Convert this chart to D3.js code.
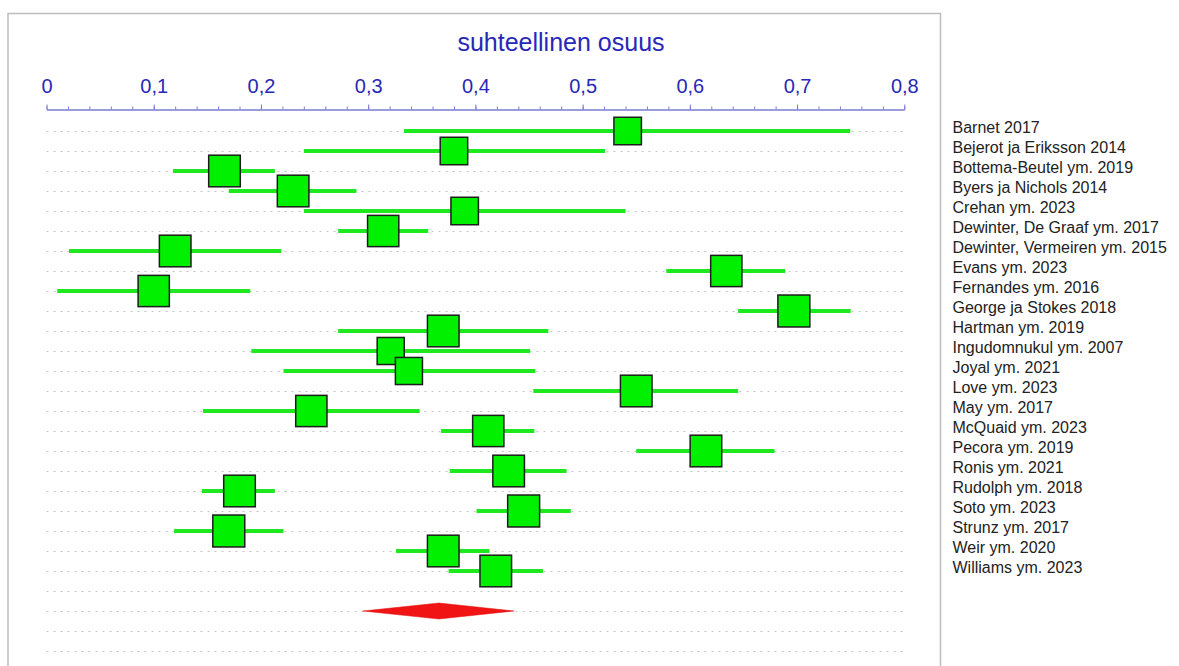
<!DOCTYPE html>
<html>
<head>
<meta charset="utf-8">
<script src="https://cdn.jsdelivr.net/npm/d3@7"></script>
<style>
  html, body { margin: 0; padding: 0; background: #ffffff; }
  svg { display: block; }
</style>
</head>
<body>
<svg id="chart" width="1179" height="666"></svg>
<script>
// ---- data ----
const studies = [
  "Barnet 2017", "Bejerot ja Eriksson 2014", "Bottema-Beutel ym. 2019",
  "Byers ja Nichols 2014", "Crehan ym. 2023", "Dewinter, De Graaf ym. 2017",
  "Dewinter, Vermeiren ym. 2015", "Evans ym. 2023", "Fernandes ym. 2016",
  "George ja Stokes 2018", "Hartman ym. 2019", "Ingudomnukul ym. 2007",
  "Joyal ym. 2021", "Love ym. 2023", "May ym. 2017", "McQuaid ym. 2023",
  "Pecora ym. 2019", "Ronis ym. 2021", "Rudolph ym. 2018", "Soto ym. 2023",
  "Strunz ym. 2017", "Weir ym. 2020", "Williams ym. 2023"
];
const estimate = [0.542, 0.380, 0.166, 0.230, 0.390, 0.314, 0.120, 0.634, 0.100, 0.697,
  0.370, 0.321, 0.338, 0.550, 0.247, 0.412, 0.615, 0.431, 0.180, 0.445, 0.170, 0.370, 0.419];
const lower = [0.3335, 0.240, 0.118, 0.170, 0.240, 0.272, 0.021, 0.578, 0.010, 0.645,
  0.272, 0.191, 0.221, 0.454, 0.146, 0.368, 0.550, 0.376, 0.145, 0.401, 0.119, 0.326, 0.375];
const upper = [0.7495, 0.521, 0.213, 0.289, 0.540, 0.356, 0.219, 0.689, 0.190, 0.750,
  0.468, 0.451, 0.456, 0.645, 0.348, 0.455, 0.679, 0.485, 0.213, 0.489, 0.221, 0.413, 0.463];
const weight = [3.4, 3.4, 4.5, 4.5, 3.4, 4.4, 4.5, 4.4, 4.4, 4.6,
  4.5, 3.3, 3.3, 4.5, 4.4, 4.4, 4.5, 4.5, 4.5, 4.6, 4.6, 4.5, 4.5];
const pooled = { estimate: 0.366, lower: 0.295, upper: 0.436 };
const pooledRow = 24;
const totalRows = 27;
const majorTicks = [0, 0.1, 0.2, 0.3, 0.4, 0.5, 0.6, 0.7, 0.8];
const axisTitle = "suhteellinen osuus";

// ---- layout ----
const svg = d3.select("#chart");
const x = d3.scaleLinear().domain([0, 0.8]).range([46.5, 904.3]);
const y = d3.scaleLinear().domain([0, totalRows - 1]).range([131, 651]);
const size = d3.scaleSqrt().domain([0, 4.5]).range([0, 31.6]);
const fmt = d3.formatLocale({ decimal: ",", thousands: " ", grouping: [3], currency: ["", ""] }).format(".1~f");

// frame
svg.append("path")
  .attr("d", "M8,666 V13.5 H940.5 V666")
  .attr("fill", "none").attr("stroke", "#bdbdbd").attr("stroke-width", 1.5);

// dotted row guides
svg.append("g").selectAll("line")
  .data(d3.range(totalRows))
  .join("line")
  .attr("x1", x(0)).attr("x2", x(0.8))
  .attr("y1", d => y(d) + 0.5).attr("y2", d => y(d) + 0.5)
  .attr("stroke", "#c4c4c4").attr("stroke-width", 1)
  .attr("stroke-dasharray", "2,5");

// axis
const axisY = 109.5;
const minor = d3.axisTop(x).tickValues(d3.range(0, 0.8001, 0.02)).tickSize(3).tickSizeOuter(0).tickFormat("");
const major = d3.axisTop(x).tickValues(majorTicks).tickSize(5).tickSizeOuter(0).tickPadding(12).tickFormat(fmt);
const gMinor = svg.append("g").attr("transform", `translate(0,${axisY})`).call(minor);
const gMajor = svg.append("g").attr("transform", `translate(0,${axisY})`).call(major);
[gMinor, gMajor].forEach(g => {
  g.select(".domain").attr("stroke", "#7a7ad6").attr("stroke-width", 1);
  g.selectAll(".tick line").attr("stroke", "#7a7ad6").attr("stroke-width", 1);
});
gMajor.selectAll(".tick text")
  .attr("fill", "#2828b8")
  .style("font-family", "'Liberation Sans', Arial, sans-serif")
  .style("font-size", "20px");

// axis title
svg.append("text")
  .attr("x", 561).attr("y", 51)
  .attr("text-anchor", "middle")
  .attr("fill", "#2828b8")
  .style("font-family", "'Liberation Sans', Arial, sans-serif")
  .style("font-size", "25px")
  .text(axisTitle);

// studies
const rows = studies.map((s, i) => ({ name: s, est: estimate[i], lo: lower[i], hi: upper[i], w: weight[i], i }));
const gStudy = svg.append("g");
rows.forEach(d => {
  const g = gStudy.append("g");
  g.append("line")
    .attr("x1", x(d.lo)).attr("x2", x(d.hi))
    .attr("y1", y(d.i)).attr("y2", y(d.i))
    .attr("stroke", "#1ee81e").attr("stroke-width", 4);
  const s = size(d.w);
  g.append("rect")
    .attr("x", x(d.est) - s / 2).attr("y", y(d.i) - s / 2)
    .attr("width", s).attr("height", s)
    .attr("fill", "#00f000").attr("stroke", "#1c1c1c").attr("stroke-width", 1.5);
});

// pooled diamond
const py = y(pooledRow);
svg.append("path")
  .attr("d", `M${x(pooled.lower)},${py} L${x(pooled.estimate)},${py - 8} L${x(pooled.upper)},${py} L${x(pooled.estimate)},${py + 8} Z`)
  .attr("fill", "#f01414").attr("stroke", "#e01010").attr("stroke-width", 0.5);

// study labels
svg.append("g").selectAll("text")
  .data(rows)
  .join("text")
  .attr("x", 952.5)
  .attr("y", d => y(d.i) + 2)
  .attr("fill", "#222222")
  .style("font-family", "'Liberation Sans', Arial, sans-serif")
  .style("font-size", "16px")
  .text(d => d.name);
</script>
</body>
</html>
